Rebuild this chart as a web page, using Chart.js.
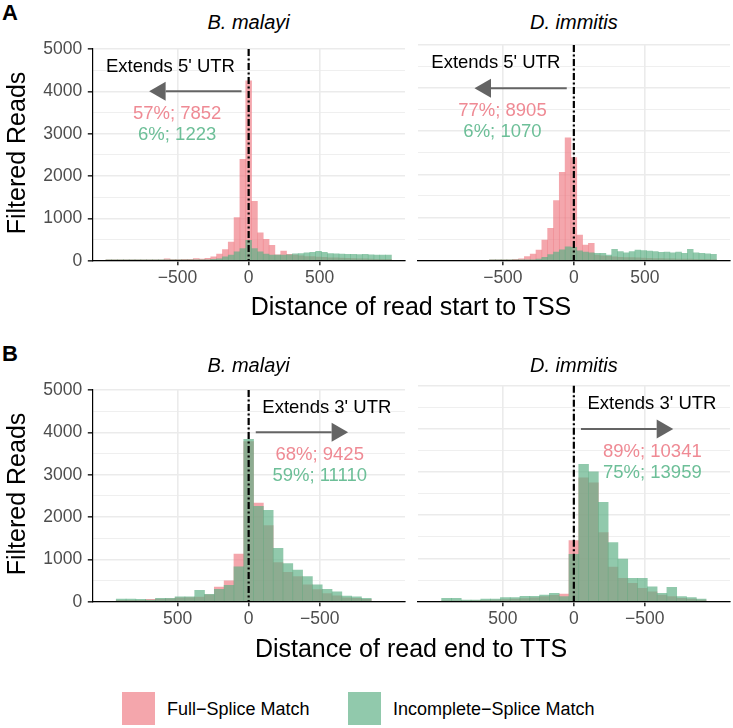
<!DOCTYPE html>
<html><head><meta charset="utf-8">
<script src="https://cdn.jsdelivr.net/npm/chart.js@4.4.1/dist/chart.umd.min.js"></script>
<style>
html,body{margin:0;padding:0;background:#fff;}
#fig{position:relative;width:733px;height:728px;overflow:hidden;font-family:"Liberation Sans",Arial,Helvetica,sans-serif;color:#000;background:#fff;}
canvas{position:absolute;}
.t{position:absolute;white-space:nowrap;transform:translate(-50%,-50%);line-height:1;}
.yt{position:absolute;white-space:nowrap;transform:translate(-50%,-50%) rotate(-90deg);line-height:1;font-size:25px;}
.lg{position:absolute;white-space:nowrap;transform:translate(0,-50%);line-height:1;font-size:18px;}
.key{position:absolute;width:33px;height:33px;}
</style></head>
<body><div id="fig">
<canvas id="c1" width="411" height="264" style="left:0px;top:33px"></canvas>
<canvas id="c2" width="322" height="264" style="left:411px;top:33px"></canvas>
<canvas id="c3" width="411" height="264" style="left:0px;top:374px"></canvas>
<canvas id="c4" width="322" height="264" style="left:411px;top:374px"></canvas>
<div id="texts"></div>
</div>
<script>
// ---------- data ----------
const seriesNames = ['Full\u2212Splice Match', 'Incomplete\u2212Splice Match'];
const species = ['B. malayi', 'D. immitis'];
const xTicks = [-500, 0, 500];
const yTicks = [0, 500, 1000, 1500, 2000, 2500, 3000, 3500, 4000, 4500, 5000];

// bin centres, distance of read start to TSS
const binsTSS = [-984,-943,-902,-861,-820,-779,-738,-697,-656,-615,-574,-533,-492,-451,-410,-369,-328,-287,-246,-205,-164,-123,-82,-41,0,41,82,123,164,205,246,287,328,369,410,451,492,533,574,615,656,697,738,779,820,861,902,943,984];
const bmTSSFull = [5,6,8,10,10,12,14,15,18,20,45,28,25,30,35,50,40,56,93,155,264,441,1020,2397,4251,1400,658,503,364,140,230,150,130,115,100,95,85,80,70,65,60,55,50,45,42,40,35,32,30];
const bmTSSIncomplete = [2,2,3,3,3,4,4,5,5,5,6,6,7,8,8,10,12,20,30,45,93,132,209,287,480,287,209,155,132,131,131,140,160,170,185,200,224,200,170,160,155,150,150,145,150,140,135,130,130];
const diTSSFull = [0,0,0,0,0,0,0,0,0,0,5,10,15,22,30,46,93,155,248,480,751,1391,2049,2851,2388,596,364,403,130,110,100,90,80,75,70,65,60,55,50,48,45,42,40,38,36,34,32,30,28];
const diTSSIncomplete = [0,0,0,0,0,0,0,0,0,0,2,3,4,5,6,8,10,20,40,80,140,200,250,320,310,230,200,185,170,170,131,263,209,185,209,247,232,224,209,194,200,185,200,170,263,185,170,162,147];

// bin centres, distance of read end to TTS
const binsTTS = [-897,-828,-759,-690,-621,-552,-483,-414,-345,-276,-207,-138,-69,0,69,138,207,276,345,414,483,552,621,690,759,828,897];
const bmTTSFull = [0,54,77,93,139,193,285,400,594,694,926,1800,2330,3780,1127,494,347,160,110,100,90,70,60,55,35,30,30];
const bmTTSIncomplete = [0,77,116,131,231,293,400,594,748,903,1258,2160,2253,3835,826,386,293,177,270,116,116,77,77,40,55,62,62];
const diTTSFull = [39,62,77,116,154,231,309,424,540,800,1600,2750,2870,1412,177,150,120,90,75,60,50,40,30,25,20,15,10];
const diTTSIncomplete = [62,93,116,332,193,347,540,540,988,1366,2299,3009,3179,1096,116,193,154,123,123,93,93,62,62,39,39,77,77];

const labelsTSS = ['Extends 5\' UTR', '57%; 7852', '6%; 1223', '77%; 8905', '6%; 1070'];
const labelsTTS = ['Extends 3\' UTR', '68%; 9425', '59%; 11110', '89%; 10341', '75%; 13959'];

// ---------- styles ----------
const FONT = '"Liberation Sans", Arial, Helvetica, sans-serif';
const PINK = 'rgba(239, 124, 133, 0.68)';
const GREEN = 'rgba(93, 176, 133, 0.68)';
const PINK_TXT = '#EF8A94';
const GREEN_TXT = '#6DBF98';
const GRID = '#EBEBEB';
const TICK = '#333333';
Chart.defaults.font.family = FONT;

const fmt = v => v < 0 ? '\u2212' + Math.abs(v) : String(v);

const annotPlugin = {
  id: 'annot',
  afterDatasetsDraw(chart, args, a) {
    if (!a || !a.arrow) return;
    const {ctx, chartArea} = chart;
    const x = chart.scales.x, y = chart.scales.y;
    ctx.save();
    // dash-dot vertical line at 0
    const x0 = x.getPixelForValue(0);
    ctx.beginPath();
    ctx.setLineDash([7, 2.5, 2, 2.5]);
    ctx.lineWidth = 2.2;
    ctx.strokeStyle = '#000';
    ctx.moveTo(x0, chartArea.top);
    ctx.lineTo(x0, chartArea.bottom);
    ctx.stroke();
    ctx.setLineDash([]);
    // arrow
    const ax0 = x.getPixelForValue(a.arrow[0]);
    const ax1 = x.getPixelForValue(a.arrow[1]);
    const ay = y.getPixelForValue(a.arrow[2]);
    const dir = Math.sign(ax1 - ax0);
    const hl = 16.5, hh = 9.5;
    ctx.strokeStyle = '#646464';
    ctx.fillStyle = '#646464';
    ctx.lineWidth = 2;
    ctx.beginPath();
    ctx.moveTo(ax0, ay);
    ctx.lineTo(ax1 - dir * hl, ay);
    ctx.stroke();
    ctx.beginPath();
    ctx.moveTo(ax1, ay);
    ctx.lineTo(ax1 - dir * hl, ay - hh);
    ctx.lineTo(ax1 - dir * hl, ay + hh);
    ctx.closePath();
    ctx.fill();
    // texts
    ctx.textAlign = 'center';
    ctx.textBaseline = 'middle';
    ctx.font = '18.5px ' + FONT;
    for (const t of a.texts) {
      ctx.fillStyle = t.color;
      ctx.fillText(t.text, x.getPixelForValue(t.x), y.getPixelForValue(t.y));
    }
    ctx.restore();
  }
};

function makeChart(id, bins, full, inc, cfg) {
  return new Chart(document.getElementById(id), {
    type: 'bar',
    data: {
      datasets: [
        { label: seriesNames[0], data: bins.map((b, i) => ({x: b, y: full[i]})), backgroundColor: PINK, order: 2 },
        { label: seriesNames[1], data: bins.map((b, i) => ({x: b, y: inc[i]})), backgroundColor: GREEN, order: 1 }
      ]
    },
    options: {
      responsive: false, animation: false, devicePixelRatio: 1,
      layout: { padding: { top: cfg.padTop, right: cfg.padRight, left: 0, bottom: 0 } },
      datasets: { bar: { grouped: false, barPercentage: 1, categoryPercentage: 1, borderWidth: 0 } },
      plugins: { legend: { display: false }, tooltip: { enabled: false }, annot: cfg.annot },
      scales: {
        x: {
          type: 'linear', min: -1100, max: 1100, reverse: cfg.reverse, offset: false,
          afterBuildTicks: a => { a.ticks = xTicks.map(v => ({value: v})); },
          afterFit: s => { s.height = 36.3; },
          grid: { color: GRID, lineWidth: 1.6, tickColor: TICK, tickLength: 4.5, offset: false, drawTicks: true },
          border: { display: true, color: '#000', width: 1.2, z: 1 },
          ticks: { color: '#4D4D4D', font: { size: 17.5 }, padding: 2, autoSkip: false, maxRotation: 0, callback: v => fmt(v) }
        },
        y: {
          type: 'linear', min: 0, max: 5000,
          afterBuildTicks: a => { a.ticks = yTicks.map(v => ({value: v})); },
          afterFit: s => { s.width = cfg.yWidth; },
          grid: {
            color: GRID,
            lineWidth: c => (c.tick && c.tick.value % 1000 === 0) ? 1.6 : 0.8,
            tickColor: c => (cfg.showY && c.tick && c.tick.value % 1000 === 0) ? TICK : 'rgba(0,0,0,0)',
            tickLength: 4.5, drawTicks: cfg.showY
          },
          border: { display: cfg.showY, color: '#000', width: 1.2, z: 1 },
          ticks: { display: cfg.showY, color: '#4D4D4D', font: { size: 17.5 }, padding: 5.5, autoSkip: false,
                   callback: v => (v % 1000 === 0) ? String(v) : '' }
        }
      }
    },
    plugins: [annotPlugin]
  });
}

makeChart('c1', binsTSS, bmTSSFull, bmTSSIncomplete, {
  padTop: 12, padRight: 6, yWidth: 92.3, showY: true, reverse: false,
  annot: { arrow: [-50, -700, 4000], texts: [
    {text: labelsTSS[0], x: -550, y: 4580, color: '#000'},
    {text: labelsTSS[1], x: -503, y: 3475, color: PINK_TXT},
    {text: labelsTSS[2], x: -503, y: 2975, color: GREEN_TXT}] }
});
makeChart('c2', binsTSS, diTSSFull, diTSSIncomplete, {
  padTop: 12, padRight: 3, yWidth: 6.7, showY: false, reverse: false,
  annot: { arrow: [-50, -700, 4000], texts: [
    {text: labelsTSS[0], x: -550, y: 4580, color: '#000'},
    {text: labelsTSS[3], x: -503, y: 3475, color: PINK_TXT},
    {text: labelsTSS[4], x: -503, y: 2975, color: GREEN_TXT}] }
});
makeChart('c3', binsTTS, bmTTSFull, bmTTSIncomplete, {
  padTop: 11.7, padRight: 6, yWidth: 92.3, showY: true, reverse: true,
  annot: { arrow: [-50, -700, 4000], texts: [
    {text: labelsTTS[0], x: -550, y: 4580, color: '#000'},
    {text: labelsTTS[1], x: -500, y: 3475, color: PINK_TXT},
    {text: labelsTTS[2], x: -500, y: 2975, color: GREEN_TXT}] }
});
makeChart('c4', binsTTS, diTTSFull, diTTSIncomplete, {
  padTop: 11.7, padRight: 3, yWidth: 6.7, showY: false, reverse: true,
  annot: { arrow: [-50, -700, 4000], texts: [
    {text: labelsTTS[0], x: -550, y: 4580, color: '#000'},
    {text: labelsTTS[3], x: -553, y: 3475, color: PINK_TXT},
    {text: labelsTTS[4], x: -553, y: 2975, color: GREEN_TXT}] }
});

// ---------- surrounding text ----------
const T = document.getElementById('texts');
function addDiv(cls, style, text) {
  const d = document.createElement('div');
  d.className = cls; d.setAttribute('style', style); d.textContent = text; T.appendChild(d);
}
addDiv('t', 'left:10px;top:13px;font-weight:bold;font-size:22px', 'A');
addDiv('t', 'left:10px;top:354px;font-weight:bold;font-size:22px', 'B');
addDiv('t', 'left:248.6px;top:22px;font-style:italic;font-size:20px', species[0]);
addDiv('t', 'left:573.9px;top:22px;font-style:italic;font-size:20px', species[1]);
addDiv('t', 'left:248.6px;top:365px;font-style:italic;font-size:20px', species[0]);
addDiv('t', 'left:573.9px;top:365px;font-style:italic;font-size:20px', species[1]);
addDiv('yt', 'left:16px;top:153px', 'Filtered Reads');
addDiv('yt', 'left:16px;top:494px', 'Filtered Reads');
addDiv('t', 'left:411px;top:306px;font-size:25px', 'Distance of read start to TSS');
addDiv('t', 'left:411px;top:648px;font-size:25px', 'Distance of read end to TTS');
addDiv('key', 'left:122px;top:692px;background:' + PINK, '');
addDiv('key', 'left:347.7px;top:692px;background:' + GREEN, '');
addDiv('lg', 'left:167px;top:708.5px', seriesNames[0]);
addDiv('lg', 'left:393px;top:708.5px', seriesNames[1]);
</script>
</body></html>
